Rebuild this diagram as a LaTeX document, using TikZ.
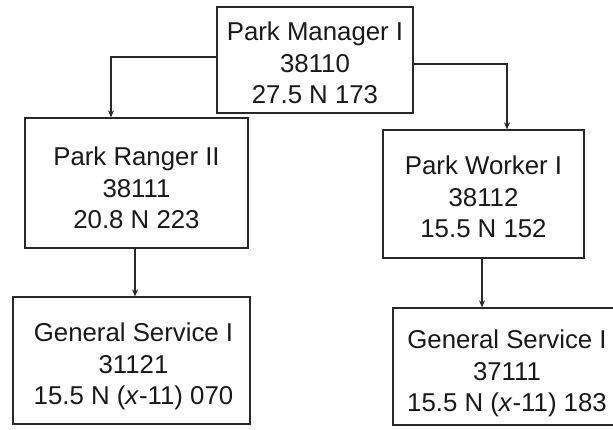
\documentclass[tikz,border=0pt]{standalone}
\usepackage{fontspec}
\setmainfont{Liberation Sans}
\usetikzlibrary{arrows.meta,calc}
\definecolor{inkc}{RGB}{40,40,40}
\tikzset{
  box/.style={draw=inkc, line width=1.3pt, rectangle, inner sep=0pt},
  lbl/.style={align=center, font=\fontsize{25.8}{31.5}\selectfont, text=black!90, inner sep=0pt},
  arr/.style={draw=inkc, line width=1.1pt, -{Stealth[length=7pt,width=6pt]}}
}
\begin{document}
\begin{tikzpicture}[x=1pt,y=1pt]
\useasboundingbox (0,0) rectangle (613,429);
\fill[white] (0,0) rectangle (613,429);
% boxes
\node[box, minimum width=196pt, minimum height=106pt] (pm) at (315,369) {};
\node[box, minimum width=223pt, minimum height=130pt] (pr) at (136.5,246) {};
\node[box, minimum width=201pt, minimum height=128pt] (pw) at (483.5,235) {};
\node[box, minimum width=237pt, minimum height=127pt] (gs1) at (131.5,68.5) {};
\node[box, minimum width=228pt, minimum height=117pt] (gs2) at (507,62.5) {};
% labels
\node[lbl] (tpm) at ([yshift=-3pt]pm.center) {Park Manager I\\38110\\27.5 N 173};
\node[lbl] (tpr) at ([yshift=-5pt]pr.center) {Park Ranger II\\38111\\20.8 N 223};
\node[lbl] (tpw) at ([yshift=-3pt]pw.center) {Park Worker I\\38112\\15.5 N 152};
\node[lbl] (tgs1) at ([xshift=2pt,yshift=-6pt]gs1.center) {General Service I\\31121\\15.5 N (\textit{x}-11) 070};
\node[lbl] (tgs2) at ([yshift=-7pt]gs2.center) {General Service I\\37111\\15.5 N (\textit{x}-11) 183};
% connectors
\coordinate (cl) at ([xshift=-25.5pt]pr.north);
\coordinate (cr) at ([xshift=23.5pt]pw.north);
\draw[arr] ([yshift=3pt]pm.west) -| (cl);
\draw[arr] ([yshift=-4pt]pm.east) -| (cr);
\draw[arr] ([xshift=-1.5pt]pr.south) -- ([xshift=-1.5pt]pr.south |- gs1.north);
\draw[arr] ([xshift=-1.5pt]pw.south) -- ([xshift=-1.5pt]pw.south |- gs2.north);
\end{tikzpicture}
\end{document}
